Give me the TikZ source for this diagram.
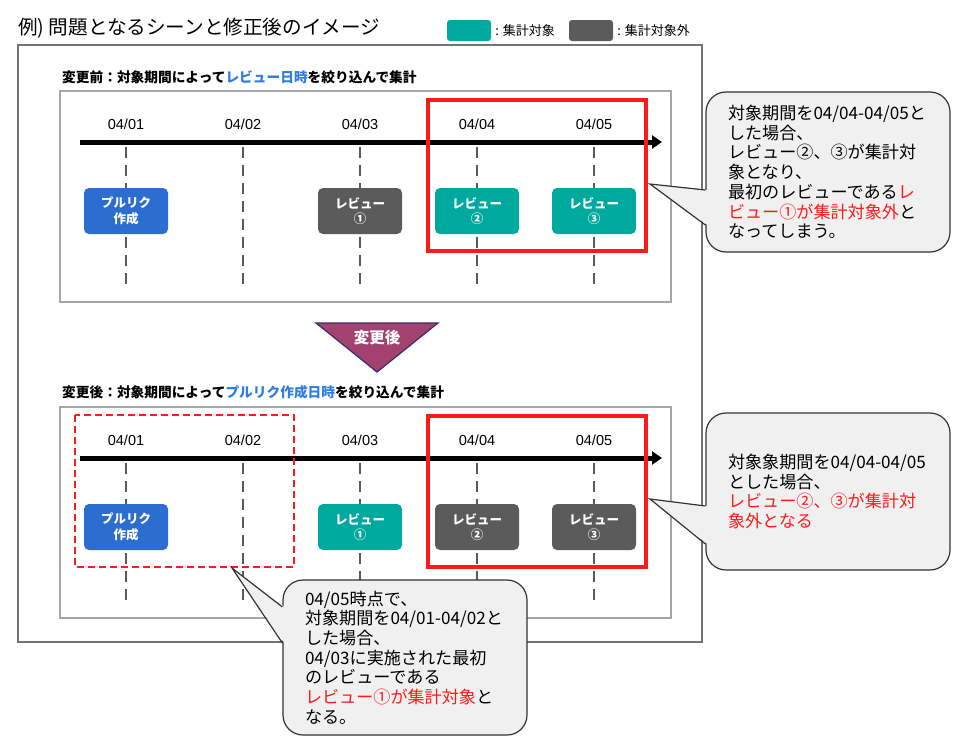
\documentclass[tikz,border=0pt]{standalone}
\usepackage{fontspec}
\setmainfont{Noto Sans CJK JP}
\newfontfamily\arialfont{Liberation Sans}
\usetikzlibrary{arrows.meta,positioning}
\definecolor{tealbox}{HTML}{00A99D}
\definecolor{graybox}{HTML}{5B5B5B}
\definecolor{bluebox}{HTML}{2B6ECF}
\definecolor{linkblue}{HTML}{2F7DE1}
\definecolor{alertred}{HTML}{FF1A1A}
\definecolor{calloutfill}{HTML}{F0F0F0}
\definecolor{arrowfill}{HTML}{A3426F}
\definecolor{arrowedge}{HTML}{3A2A6A}
\begin{document}
\begin{tikzpicture}[x=1pt,y=-1pt,
 datelbl/.style={font=\arialfont\fontsize{14.5}{16}\selectfont},
 guide/.style={draw=black!65,line width=1.2pt,dash pattern=on 11pt off 7pt},
 evt/.style={rounded corners=5pt,minimum width=84pt,minimum height=46pt,align=center,text=white,font=\bfseries\fontsize{12.5}{15.5}\selectfont},
 axis/.style={line width=5pt,-{Triangle[length=10pt,width=13pt]}},
 panel/.style={draw=black!35,line width=1.5pt},
 hit/.style={draw=alertred,line width=3.2pt},
 note/.style={draw=black!80,line width=1.2pt,fill=calloutfill,rounded corners=20pt,minimum width=244pt,text width=200pt,inner xsep=22pt,align=left,font=\fontsize{17.1}{19.7}\selectfont},
 tail/.style={draw=black!80,line width=1.2pt},
 head/.style={anchor=west,inner sep=0pt,font=\bfseries\fontsize{13.7}{16}\selectfont},
 legend/.style={rounded corners=3pt,minimum width=44pt,minimum height=21pt},
 legendtxt/.style={inner sep=1pt,font=\fontsize{13}{14}\selectfont}]
\useasboundingbox[fill=white] (0,0) rectangle (964,747);

% title and legend
\node[anchor=west,inner sep=0pt,font=\fontsize{19.6}{22}\selectfont] (title) at (18,28) {例) 問題となるシーンと修正後のイメージ};
\node[legend,fill=tealbox] (lgin) at (469,30.5) {};
\node[legendtxt,right=3pt of lgin] (lgintxt) {: 集計対象};
\node[legend,fill=graybox] (lgout) at (591,30.5) {};
\node[legendtxt,right=3pt of lgout] (lgouttxt) {: 集計対象外};
\draw[draw=black!55,line width=1.5pt] (18,45) rectangle (702,642);

% before
\node[head] (headA) at (62,77) {変更前：対象期間によって\textcolor{linkblue}{レビュー日時}を絞り込んで集計};
\draw[panel] (60,91) rectangle (671,302);
\node[datelbl] (a1) at (126,124) {04/01};
\node[datelbl] (a2) at (243,124) {04/02};
\node[datelbl] (a3) at (360,124) {04/03};
\node[datelbl] (a4) at (477,124) {04/04};
\node[datelbl] (a5) at (594,124) {04/05};
\draw[guide] (a1) ++(0,23) -- ++(0,141);
\draw[guide] (a2) ++(0,23) -- ++(0,141);
\draw[guide] (a3) ++(0,23) -- ++(0,141);
\draw[guide] (a4) ++(0,23) -- ++(0,141);
\draw[guide] (a5) ++(0,23) -- ++(0,141);
\coordinate (axisA) at (80,142);
\coordinate (axisAend) at (662,142);
\draw[axis] (axisA) -- (axisAend);
\node[evt,fill=bluebox] (prA) at (126,211) {プルリク\\作成};
\node[evt,fill=graybox] (revA1) at (360,211) {レビュー\\①};
\node[evt,fill=tealbox] (revA2) at (477,211) {レビュー\\②};
\node[evt,fill=tealbox] (revA3) at (594,211) {レビュー\\③};
\draw[hit] (428,100) rectangle (646,251);

% change marker
\draw[fill=arrowfill,draw=arrowedge,line width=1.2pt] (316,323) -- (438,323) -- (377,372) -- cycle;
\node[text=white,font=\bfseries\fontsize{15.5}{18}\selectfont] (change) at (377,338) {変更後};

% after
\node[head] (headB) at (62,392) {変更後：対象期間によって\textcolor{linkblue}{プルリク作成日時}を絞り込んで集計};
\draw[panel] (60,407) rectangle (671,618);
\node[datelbl] (b1) at (126,440) {04/01};
\node[datelbl] (b2) at (243,440) {04/02};
\node[datelbl] (b3) at (360,440) {04/03};
\node[datelbl] (b4) at (477,440) {04/04};
\node[datelbl] (b5) at (594,440) {04/05};
\draw[guide] (b1) ++(0,23) -- ++(0,141);
\draw[guide] (b2) ++(0,23) -- ++(0,141);
\draw[guide] (b3) ++(0,23) -- ++(0,141);
\draw[guide] (b4) ++(0,23) -- ++(0,141);
\draw[guide] (b5) ++(0,23) -- ++(0,141);
\coordinate (axisB) at (80,458);
\coordinate (axisBend) at (662,458);
\draw[axis] (axisB) -- (axisBend);
\node[evt,fill=bluebox] (prB) at (126,527) {プルリク\\作成};
\node[evt,fill=tealbox] (revB1) at (360,527) {レビュー\\①};
\node[evt,fill=graybox] (revB2) at (477,527) {レビュー\\②};
\node[evt,fill=graybox] (revB3) at (594,527) {レビュー\\③};
\draw[draw=alertred,line width=1.2pt,dash pattern=on 7pt off 4pt] (75,415) rectangle (294,567);
\draw[hit] (428,416) rectangle (646,567);

% callouts
\node[note,minimum height=160pt] (noteA) at (828,172) {対象期間を04/04-04/05と\\した場合、\\レビュー②、③が集計対\\象となり、\\最初のレビューである\textcolor{alertred}{レ}\\\textcolor{alertred}{ビュー①が集計対象外}と\\なってしまう。};
\coordinate (tipA) at (650,184);
\path (noteA.west |- 0,190) coordinate (a1s) (noteA.west |- 0,225) coordinate (a2s);
\fill[calloutfill] (tipA) -- ([xshift=2pt]a1s) -- ([xshift=2pt]a2s) -- cycle;
\draw[tail] (a1s) -- (tipA) -- (a2s);

\node[note,minimum height=157pt] (noteB) at (828,491.5) {対象象期間を04/04-04/05\\とした場合、\\\textcolor{alertred}{レビュー②、③が集計対}\\\textcolor{alertred}{象外となる}};
\coordinate (tipB) at (650,499);
\path (noteB.west |- 0,506) coordinate (b1s) (noteB.west |- 0,544) coordinate (b2s);
\fill[calloutfill] (tipB) -- ([xshift=2pt]b1s) -- ([xshift=2pt]b2s) -- cycle;
\draw[tail] (b1s) -- (tipB) -- (b2s);

\node[note,minimum height=155pt] (noteC) at (405,657.5) {04/05時点で、\\対象期間を04/01-04/02と\\した場合、\\04/03に実施された最初\\のレビューである\\\textcolor{alertred}{レビュー①が集計対象}と\\なる。};
\coordinate (tipC) at (232,568);
\path (noteC.west |- 0,607) coordinate (c1s) (noteC.west |- 0,643) coordinate (c2s);
\fill[calloutfill] (tipC) -- ([xshift=2pt]c1s) -- ([xshift=2pt]c2s) -- cycle;
\draw[tail] (c1s) -- (tipC) -- (c2s);
\end{tikzpicture}
\end{document}
